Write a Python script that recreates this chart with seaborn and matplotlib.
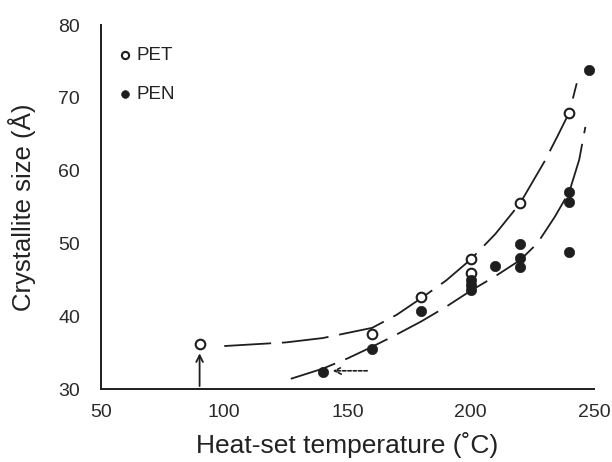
import matplotlib
matplotlib.use("Agg")
import matplotlib.pyplot as plt
import seaborn as sns
import pandas as pd

# ---- data ----
pet_x = [90, 160, 180, 200, 200, 220, 240]
pet_y = [36.2, 37.6, 42.6, 47.8, 45.9, 55.5, 67.9]

pen_x = [140, 160, 180, 200, 200, 200, 210, 220, 220, 220, 240, 240, 240, 248]
pen_y = [32.4, 35.5, 40.7, 45.0, 44.3, 43.6, 46.9, 49.9, 48.0, 46.8, 57.1, 55.7, 48.8, 73.8]

# fitted curves
pet_fit_x = [100, 125, 140, 150, 160, 170, 180, 190, 200, 210, 220, 230, 235, 240, 243]
pet_fit_y = [35.9, 36.4, 37.0, 37.7, 38.4, 40.2, 42.5, 44.9, 47.8, 51.3, 55.5, 61.3, 64.6, 68.0, 72.0]

pen_fit_x = [127, 140, 150, 160, 170, 180, 190, 200, 210, 220, 227, 234, 240, 244, 246.5]
pen_fit_y = [31.4, 32.8, 34.2, 35.8, 37.5, 39.3, 41.3, 43.5, 45.5, 47.7, 50.0, 53.6, 57.1, 61.5, 66.0]

x_ticks = [50, 100, 150, 200, 250]
y_ticks = [30, 40, 50, 60, 70, 80]

# arrows (tail -> head)
arrow_up = ((90, 30.4), (90, 34.9))
arrow_left = ((158, 32.5), (144, 32.5))

ink = "#1e1e1e"

sns.set_theme(style="white")
plt.rcParams["font.family"] = ["Liberation Sans", "DejaVu Sans"]

fig = plt.figure(figsize=(6.12, 4.62), dpi=100)
ax = fig.add_axes([101 / 612, (462 - 389) / 462, (594 - 101) / 612, (389 - 25) / 462])

dash = (0, (26, 6))
sns.lineplot(x=pet_fit_x, y=pet_fit_y, ax=ax, color=ink, lw=1.3, linestyle=dash,
             sort=False, estimator=None)
sns.lineplot(x=pen_fit_x, y=pen_fit_y, ax=ax, color=ink, lw=1.3, linestyle=dash,
             sort=False, estimator=None)

sns.scatterplot(x=pet_x, y=pet_y, ax=ax, marker="o", s=48, facecolor="white",
                edgecolor=ink, linewidth=1.5, zorder=5, label="PET")
sns.scatterplot(x=pen_x, y=pen_y, ax=ax, marker="o", s=55, color=ink,
                edgecolor=ink, linewidth=0.5, zorder=5, label="PEN")

ax.annotate("", xy=arrow_up[1], xytext=arrow_up[0],
            arrowprops=dict(arrowstyle="->", color=ink, lw=1.3, shrinkA=0, shrinkB=0))
ax.annotate("", xy=arrow_left[1], xytext=arrow_left[0],
            arrowprops=dict(arrowstyle="->", color=ink, lw=1.2, linestyle=(0, (2, 1.2)),
                            shrinkA=0, shrinkB=0))

ax.set_xlim(50, 250)
ax.set_ylim(30, 80)
ax.set_xticks(x_ticks)
ax.set_yticks(y_ticks)
ax.tick_params(axis="x", direction="in", length=5, width=1, colors=ink,
               labelsize=14, pad=11)
ax.tick_params(axis="y", direction="inout", length=6, width=1, colors=ink,
               labelsize=14, pad=12)
for lab in ax.get_xticklabels() + ax.get_yticklabels():
    lab.set_color("#2a2a2a")

for s in ["top", "right"]:
    ax.spines[s].set_visible(False)
for s in ["left", "bottom"]:
    ax.spines[s].set_color(ink)
    ax.spines[s].set_linewidth(1.4)

ax.set_xlabel("Heat-set temperature (˚C)", fontsize=19, color="#222", labelpad=8)
ax.set_ylabel("Crystallite size (Å)", fontsize=18.5, color="#222", labelpad=16)

leg = ax.legend(loc="upper left", bbox_to_anchor=(0.0, 0.975), frameon=False,
                fontsize=13.5, handletextpad=0.0, handlelength=1.2,
                labelspacing=1.15, borderaxespad=0.3, markerscale=0.75)
for t in leg.get_texts():
    t.set_color("#222")

fig.savefig("out.png", dpi=100)
